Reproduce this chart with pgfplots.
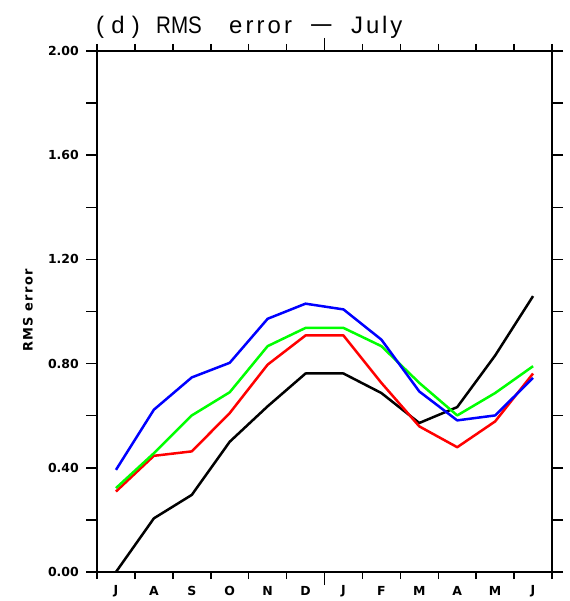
\documentclass[border=0pt]{standalone}
\usepackage{pgfplots}
\pgfplotsset{compat=1.18}
\usepackage{fontspec}
\setmainfont{DejaVu Sans}
\newfontfamily\titlefont{Liberation Sans}
\begin{document}
\begin{tikzpicture}[x=1bp,y=1bp]
\useasboundingbox (0,0) rectangle (570,601);
\begin{axis}[
  at={(97bp,29bp)}, anchor=south west,
  scale only axis, width=455bp, height=521bp,
  xmin=0, xmax=12, ymin=0, ymax=2,
  axis line style={line width=1.5bp},
  every tick/.style={line width=1.5bp, black},
  tick align=outside,
  xtick={0,1,...,12},
  x tick label as interval,
  xticklabels={J,A,S,O,N,D,J,F,M,A,M,J},
  extra x ticks={6},
  extra x tick labels={},
  extra x tick style={major tick length=13bp},
  ytick={0,0.4,...,2.01},
  minor ytick={0,0.2,...,2.01},
  major tick length=7bp,
  minor tick length=11bp,
  yticklabel style={font=\fontsize{12.5}{13}\selectfont\bfseries, anchor=east, inner sep=0pt, xshift=-11bp},
  xticklabel style={font=\fontsize{12.5}{13}\selectfont\bfseries, anchor=center, inner sep=0pt, yshift=-12bp},
  yticklabel={\pgfmathprintnumber[fixed,fixed zerofill,precision=2]{\tick}},
  /pgf/number format/assume math mode=true,
  clip=false,
]
\addplot[black, line width=2.5bp, line join=round] coordinates {
(0.5,0.0) (1.5,0.206) (2.5,0.296) (3.5,0.50) (4.5,0.636) (5.5,0.762) (6.5,0.762) (7.5,0.687) (8.5,0.572) (9.5,0.633) (10.5,0.831) (11.5,1.059)};
\addplot[red, line width=2.5bp, line join=round] coordinates {
(0.5,0.309) (1.5,0.446) (2.5,0.463) (3.5,0.610) (4.5,0.796) (5.5,0.908) (6.5,0.908) (7.5,0.726) (8.5,0.559) (9.5,0.479) (10.5,0.578) (11.5,0.762)};
\addplot[green, line width=2.5bp, line join=round] coordinates {
(0.5,0.322) (1.5,0.456) (2.5,0.601) (3.5,0.69) (4.5,0.867) (5.5,0.937) (6.5,0.937) (7.5,0.867) (8.5,0.726) (9.5,0.601) (10.5,0.687) (11.5,0.79)};
\addplot[blue, line width=2.5bp, line join=round] coordinates {
(0.5,0.392) (1.5,0.623) (2.5,0.747) (3.5,0.803) (4.5,0.972) (5.5,1.03) (6.5,1.008) (7.5,0.892) (8.5,0.693) (9.5,0.582) (10.5,0.601) (11.5,0.745)};
\end{axis}
\begin{scope}[every node/.style={anchor=base west, inner sep=0pt, font=\titlefont\fontsize{24}{26}\selectfont}]
\node at (96,567.5) {\addfontfeature{LetterSpace=30}(d)};
\node at (156,567.5) {\scalebox{0.86}[1]{RMS}};
\node at (229,567.5) {\addfontfeature{LetterSpace=13}error};
\node at (309,567.5) {\scalebox{1.75}[1]{−}};
\node at (351,567.5) {\addfontfeature{LetterSpace=12}July};
\end{scope}
\node[rotate=90, inner sep=0pt, font=\fontsize{13}{14}\selectfont\bfseries\addfontfeature{LetterSpace=10}] at (28,290.5) {RMS error};
\end{tikzpicture}
\end{document}
